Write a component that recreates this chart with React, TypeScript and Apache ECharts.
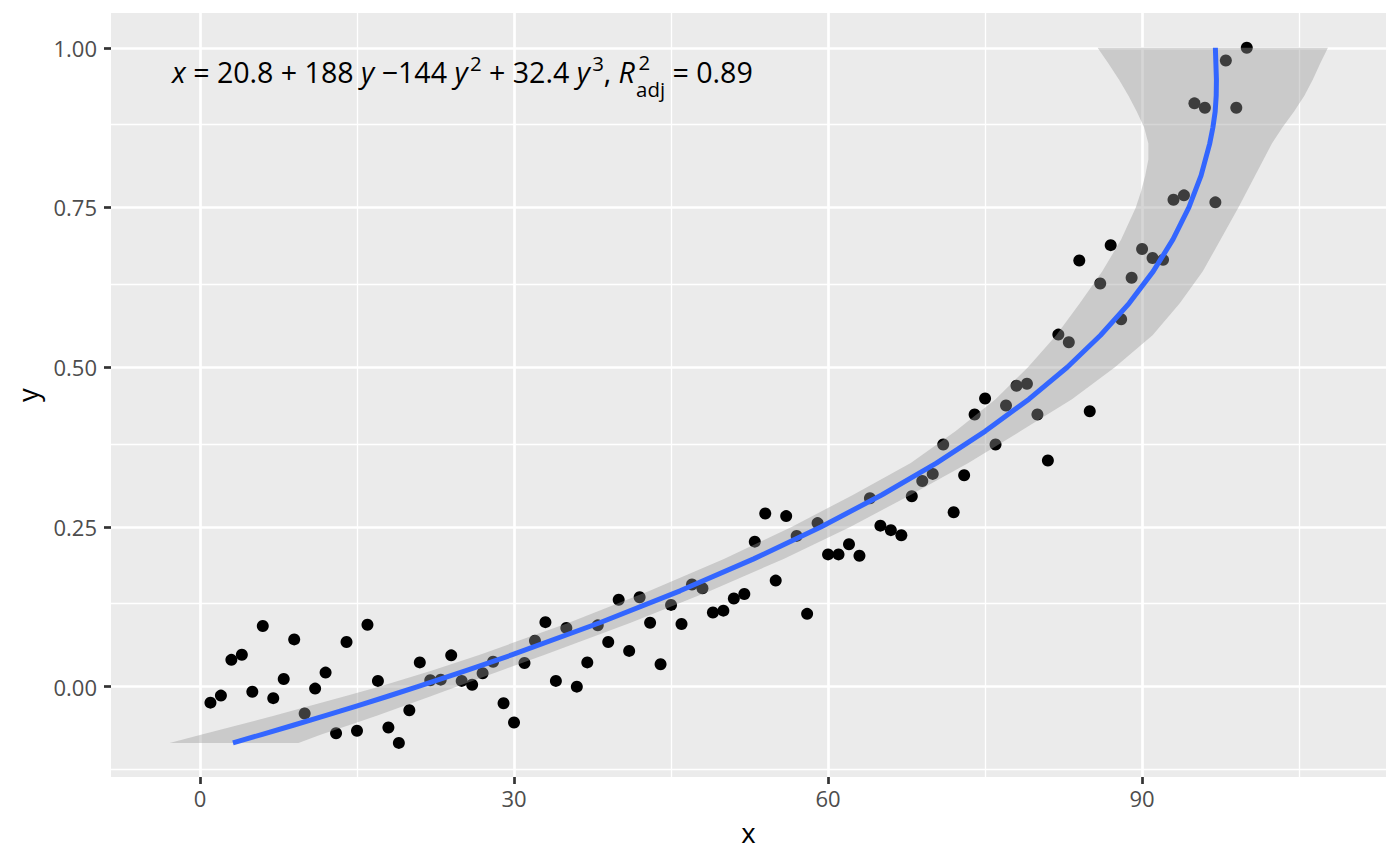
import React, { useEffect, useRef } from "react";
import * as echarts from "echarts";

// ---- data ----
const xValues = [
  1, 2, 3, 4, 5, 6, 7, 8, 9, 10, 11, 12, 13, 14, 15, 16, 17, 18, 19, 20,
  21, 22, 23, 24, 25, 26, 27, 28, 29, 30, 31, 32, 33, 34, 35, 36, 37, 38, 39, 40,
  41, 42, 43, 44, 45, 46, 47, 48, 49, 50, 51, 52, 53, 54, 55, 56, 57, 58, 59, 60,
  61, 62, 63, 64, 65, 66, 67, 68, 69, 70, 71, 72, 73, 74, 75, 76, 77, 78, 79, 80,
  81, 82, 83, 84, 85, 86, 87, 88, 89, 90, 91, 92, 93, 94, 95, 96, 97, 98, 99, 100,
];
const yValues = [
  -0.025, -0.014, 0.042, 0.05, -0.008, 0.095, -0.018, 0.012, 0.074, -0.042,
  -0.003, 0.022, -0.073, 0.07, -0.069, 0.097, 0.009, -0.064, -0.088, -0.037,
  0.038, 0.01, 0.011, 0.049, 0.009, 0.003, 0.021, 0.039, -0.026, -0.056,
  0.037, 0.072, 0.101, 0.009, 0.092, 0.0, 0.038, 0.096, 0.07, 0.136,
  0.056, 0.14, 0.1, 0.035, 0.128, 0.098, 0.16, 0.154, 0.116, 0.119,
  0.138, 0.145, 0.227, 0.271, 0.166, 0.267, 0.236, 0.114, 0.256, 0.207,
  0.207, 0.223, 0.205, 0.295, 0.252, 0.245, 0.237, 0.298, 0.322, 0.333,
  0.379, 0.273, 0.331, 0.426, 0.451, 0.379, 0.44, 0.471, 0.474, 0.426,
  0.354, 0.551, 0.539, 0.667, 0.431, 0.631, 0.691, 0.575, 0.64, 0.685,
  0.671, 0.668, 0.762, 0.769, 0.913, 0.906, 0.758, 0.98, 0.906, 1.0,
];

// fitted curve x = f(y)
const fitY = [
  -0.088, -0.075, -0.06, -0.045, -0.03, -0.015, 0, 0.025, 0.05, 0.1, 0.15, 0.2,
  0.25, 0.3, 0.35, 0.4, 0.45, 0.5, 0.55, 0.6, 0.65, 0.7, 0.75, 0.8, 0.85,
  0.875, 0.9, 0.925, 0.95, 0.975, 1.0,
];
const fitX = [
  3.15, 5.88, 8.99, 12.05, 15.03, 17.95, 20.8, 25.41, 29.84, 38.19, 45.87, 52.9,
  59.31, 65.12, 70.35, 75.03, 79.19, 82.85, 86.03, 88.76, 91.06, 92.95, 94.47,
  95.63, 96.46, 96.76, 96.98, 97.08, 97.1, 97.05, 97.0,
];

// confidence band (horizontal limits at each y)
const bandY = [
  -0.088, -0.075, -0.06, -0.045, -0.03, -0.015, 0, 0.025, 0.05, 0.1, 0.15, 0.2,
  0.25, 0.3, 0.35, 0.4, 0.45, 0.5, 0.55, 0.6, 0.65, 0.7, 0.75, 0.775, 0.8,
  0.825, 0.85, 0.875, 0.9, 0.925, 0.95, 0.975, 1.0,
];
const bandLow = [
  -2.9, 0.18, 3.69, 7.15, 10.53, 13.85, 17.1, 22.11, 26.74, 35.24, 42.97, 50.05,
  56.51, 62.37, 67.9, 72.2, 76.0, 79.1, 81.8, 84.05, 86.2, 88.0, 89.4, 89.9,
  90.3, 90.6, 90.6, 90.2, 89.5, 88.7, 87.8, 86.8, 85.75,
];
const bandHigh = [
  9.4, 11.58, 14.29, 16.95, 19.53, 22.05, 24.5, 28.71, 32.94, 41.14, 48.77, 55.75,
  62.11, 67.87, 73.4, 78.4, 83.3, 87.4, 91.0, 93.6, 95.8, 97.5, 99.2, 100.0,
  100.8, 101.6, 102.4, 103.4, 104.5, 105.5, 106.3, 107.0, 107.75,
];

const xMajorTicks = [0, 30, 60, 90];
const xMinorTicks = [15, 45, 75, 105];
const yMajorTicks = [0, 0.25, 0.5, 0.75, 1.0];
const yMinorTicks = [-0.125, 0.125, 0.375, 0.625, 0.875];

const X_MIN = -8.5;
const X_MAX = 113.3;
const Y_MIN = -0.1414;
const Y_MAX = 1.0544;

type Tok = { text: string; kind: "normal" | "italic" | "sup" | "supsub"; sub?: string };
const eqTokens: Tok[] = [
  { text: "x", kind: "italic" },
  { text: " = 20.8 + 188 ", kind: "normal" },
  { text: "y", kind: "italic" },
  { text: " \u2212144 ", kind: "normal" },
  { text: "y", kind: "italic" },
  { text: "2", kind: "sup" },
  { text: " + 32.4 ", kind: "normal" },
  { text: "y", kind: "italic" },
  { text: "3", kind: "sup" },
  { text: ", ", kind: "normal" },
  { text: "R", kind: "italic" },
  { text: "2", kind: "supsub", sub: "adj" },
  { text: " = 0.89", kind: "normal" },
];

const FONT = '"Open Sans", "Noto Sans", sans-serif';

function buildEquation(): any[] {
  const canvas = document.createElement("canvas");
  const ctx = canvas.getContext("2d")!;
  const measure = (t: string, size: number, italic: boolean) => {
    ctx.font = `${italic ? "italic " : ""}${size}px "Open Sans"`;
    return ctx.measureText(t).width;
  };
  const baseMain = 28;
  const baseSmall = 20;
  const layout = (k: number) => {
    const main = baseMain * k;
    const small = baseSmall * k;
    let cx = 0;
    const items: any[] = [];
    eqTokens.forEach((tk, i) => {
      const prevItalic = i > 0 && eqTokens[i - 1].kind === "italic";
      if (tk.kind === "normal" || tk.kind === "italic") {
        const it = tk.kind === "italic";
        items.push({ text: tk.text, x: cx, y: 71.5, size: main, italic: it });
        cx += measure(tk.text, main, it);
      } else if (tk.kind === "sup") {
        const off = prevItalic ? 0.08 * main : 0;
        items.push({ text: tk.text, x: cx + off, y: 63, size: small, italic: false });
        cx += off + measure(tk.text, small, false);
      } else {
        const off = 0.12 * main;
        const w1 = measure(tk.text, small, false) + off;
        items.push({ text: tk.text, x: cx + off, y: 62, size: small, italic: false });
        const w2 = measure(tk.sub || "", small, false) + 0.04 * main;
        items.push({ text: tk.sub, x: cx + 0.04 * main, y: 89, size: small, italic: false });
        cx += Math.max(w1, w2);
      }
    });
    return { items, width: cx };
  };
  const first = layout(1);
  const k = 581 / first.width;
  const final = layout(k);
  const left = 172;
  return final.items.map((it) => ({
    type: "text",
    x: left + it.x,
    y: it.y,
    silent: true,
    z: 10,
    style: {
      text: it.text,
      fontSize: it.size,
      fontFamily: FONT,
      fontStyle: it.italic ? "italic" : "normal",
      fill: "#000000",
      align: "left",
      verticalAlign: "middle",
    },
  }));
}

export default function App() {
  const ref = useRef<HTMLDivElement>(null);

  useEffect(() => {
    if (!ref.current) return;
    const chart = echarts.init(ref.current, null, { renderer: "svg" });

    const gridLines = [
      ...xMajorTicks.map((v) => ({ xAxis: v, lineStyle: { width: 2.7 } })),
      ...xMinorTicks.map((v) => ({ xAxis: v, lineStyle: { width: 1.35 } })),
      ...yMajorTicks.map((v) => ({ yAxis: v, lineStyle: { width: 2.7 } })),
      ...yMinorTicks.map((v) => ({ yAxis: v, lineStyle: { width: 1.35 } })),
    ];

    const option: any = {
      animation: false,
      backgroundColor: "#ffffff",
      textStyle: { fontFamily: FONT },
      grid: {
        left: 111,
        top: 13,
        width: 1275,
        height: 764,
        show: true,
        backgroundColor: "#EBEBEB",
        borderWidth: 0,
        containLabel: false,
      },
      xAxis: {
        type: "value",
        min: X_MIN,
        max: X_MAX,
        name: "x",
        nameLocation: "middle",
        nameGap: 41,
        nameTextStyle: { fontSize: 27.5, color: "#000000", fontFamily: FONT },
        axisLine: { show: false, onZero: false },
        splitLine: { show: false },
        axisTick: {
          show: true,
          length: 7,
          customValues: xMajorTicks,
          lineStyle: { color: "#333333", width: 2.7 },
        },
        axisLabel: {
          show: true,
          customValues: xMajorTicks,
          margin: 10,
          fontSize: 22,
          color: "#4D4D4D",
          fontFamily: FONT,
        },
      },
      yAxis: {
        type: "value",
        min: Y_MIN,
        max: Y_MAX,
        name: "y",
        nameLocation: "middle",
        nameGap: 70,
        nameTextStyle: { fontSize: 27.5, color: "#000000", fontFamily: FONT },
        axisLine: { show: false, onZero: false },
        splitLine: { show: false },
        axisTick: {
          show: true,
          length: 7,
          customValues: yMajorTicks,
          lineStyle: { color: "#333333", width: 2.7 },
        },
        axisLabel: {
          show: true,
          customValues: yMajorTicks,
          margin: 14,
          fontSize: 22,
          color: "#4D4D4D",
          fontFamily: FONT,
          formatter: (v: number) => v.toFixed(2),
        },
      },
      series: [
        {
          type: "line",
          data: [],
          z: 1,
          silent: true,
          markLine: {
            z: 1,
            silent: true,
            symbol: ["none", "none"],
            label: { show: false },
            lineStyle: { color: "#FFFFFF", type: "solid" },
            emphasis: { disabled: true },
            data: gridLines,
          },
        },
        {
          type: "scatter",
          z: 2,
          silent: true,
          symbol: "circle",
          symbolSize: 12,
          itemStyle: { color: "#000000", opacity: 1 },
          data: xValues.map((x, i) => [x, yValues[i]]),
        },
        {
          type: "custom",
          z: 3,
          silent: true,
          data: [[0, 0]],
          renderItem: (_params: any, api: any) => {
            const pts: number[][] = [];
            for (let i = 0; i < bandY.length; i++) pts.push(api.coord([bandLow[i], bandY[i]]));
            for (let i = bandY.length - 1; i >= 0; i--) pts.push(api.coord([bandHigh[i], bandY[i]]));
            return {
              type: "polygon",
              shape: { points: pts, smooth: 0 },
              style: { fill: "rgba(153,153,153,0.4)", stroke: "none" },
            };
          },
        },
        {
          type: "line",
          z: 4,
          silent: true,
          showSymbol: false,
          smooth: false,
          lineStyle: { color: "#3366FF", width: 5, join: "round" },
          data: fitY.map((y, i) => [fitX[i], y]),
        },
      ],
      graphic: [],
    };

    chart.setOption(option);
    chart.setOption({ graphic: buildEquation() });
    return () => chart.dispose();
  }, []);

  return (
    <div
      ref={ref}
      style={{ position: "fixed", left: 0, top: 0, width: 1400, height: 866, background: "#fff" }}
    />
  );
}
